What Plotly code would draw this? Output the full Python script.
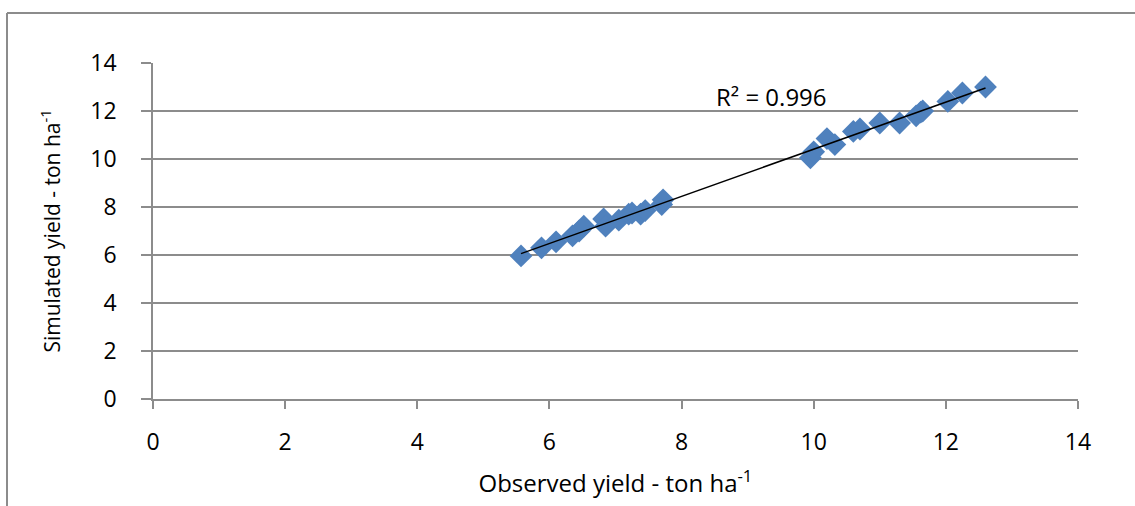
import numpy as np
import plotly.graph_objects as go

observed = [5.57, 5.88, 6.10, 6.35, 6.45, 6.52, 6.82, 6.85, 7.05, 7.20, 7.25, 7.38, 7.45, 7.70, 7.72,
            9.95, 10.00, 10.20, 10.32, 10.60, 10.70, 11.00, 11.30, 11.55, 11.62, 11.65, 12.03, 12.25, 12.60]
simulated = [5.96, 6.30, 6.55, 6.80, 7.00, 7.20, 7.50, 7.20, 7.45, 7.70, 7.75, 7.70, 7.85, 8.10, 8.30,
             10.05, 10.30, 10.85, 10.60, 11.15, 11.25, 11.50, 11.50, 11.80, 11.95, 12.00, 12.40, 12.75, 13.00]
tick_vals = [0, 2, 4, 6, 8, 10, 12, 14]
r2_label = "R² = 0.996"

font = "Open Sans"
obs = np.array(observed)
sim = np.array(simulated)
slope, intercept = np.polyfit(obs, sim, 1)
xl = np.array([obs.min(), obs.max()])
yl = slope * xl + intercept

fig = go.Figure()
fig.add_trace(go.Scatter(x=observed, y=simulated, mode="markers",
                         marker=dict(symbol="diamond", size=17.5, color="#4F81BD",
                                     line=dict(width=0)), showlegend=False))
fig.add_trace(go.Scatter(x=xl, y=yl, mode="lines", line=dict(color="black", width=1.5),
                         showlegend=False))

fig.add_annotation(x=9.36, y=12.62, text=r2_label, showarrow=False,
                   font=dict(family=font, size=24, color="black"))

axis_common = dict(range=[0, 14], tickvals=tick_vals, ticks="outside",
                   tickcolor="#8c8c8c", showline=True, linecolor="#8c8c8c", linewidth=1.5,
                   zeroline=False, tickfont=dict(family=font, size=23, color="black"))
fig.update_xaxes(**axis_common, showgrid=False, ticklen=8, tickwidth=1.5, ticklabelstandoff=14,
                 title=dict(text="Observed yield - ton ha<sup>-1</sup>",
                            font=dict(family=font, size=24, color="black"), standoff=19))
fig.update_yaxes(**axis_common, showgrid=True, gridcolor="#8c8c8c", gridwidth=1.5,
                 ticklen=10, tickwidth=1.5, ticklabelstandoff=20,
                 title=dict(text="Simulated yield - ton ha<sup>-1</sup>",
                            font=dict(family=font, size=21, color="black"), standoff=24))

# outer chart border (left and top edges visible)
fig.add_shape(type="line", xref="paper", yref="paper", x0=(7 - 153) / 925, x1=(7 - 153) / 925,
              y0=1 + (63 - 13) / 336, y1=-0.4, line=dict(color="#8c8c8c", width=2))
fig.add_shape(type="line", xref="paper", yref="paper", x0=(7 - 153) / 925, x1=1.2,
              y0=1 + (63 - 13) / 336, y1=1 + (63 - 13) / 336, line=dict(color="#8c8c8c", width=2))

fig.update_layout(width=1135, height=506, margin=dict(l=153, r=57, t=63, b=107),
                  plot_bgcolor="white", paper_bgcolor="white")
fig.write_html("out.html")
